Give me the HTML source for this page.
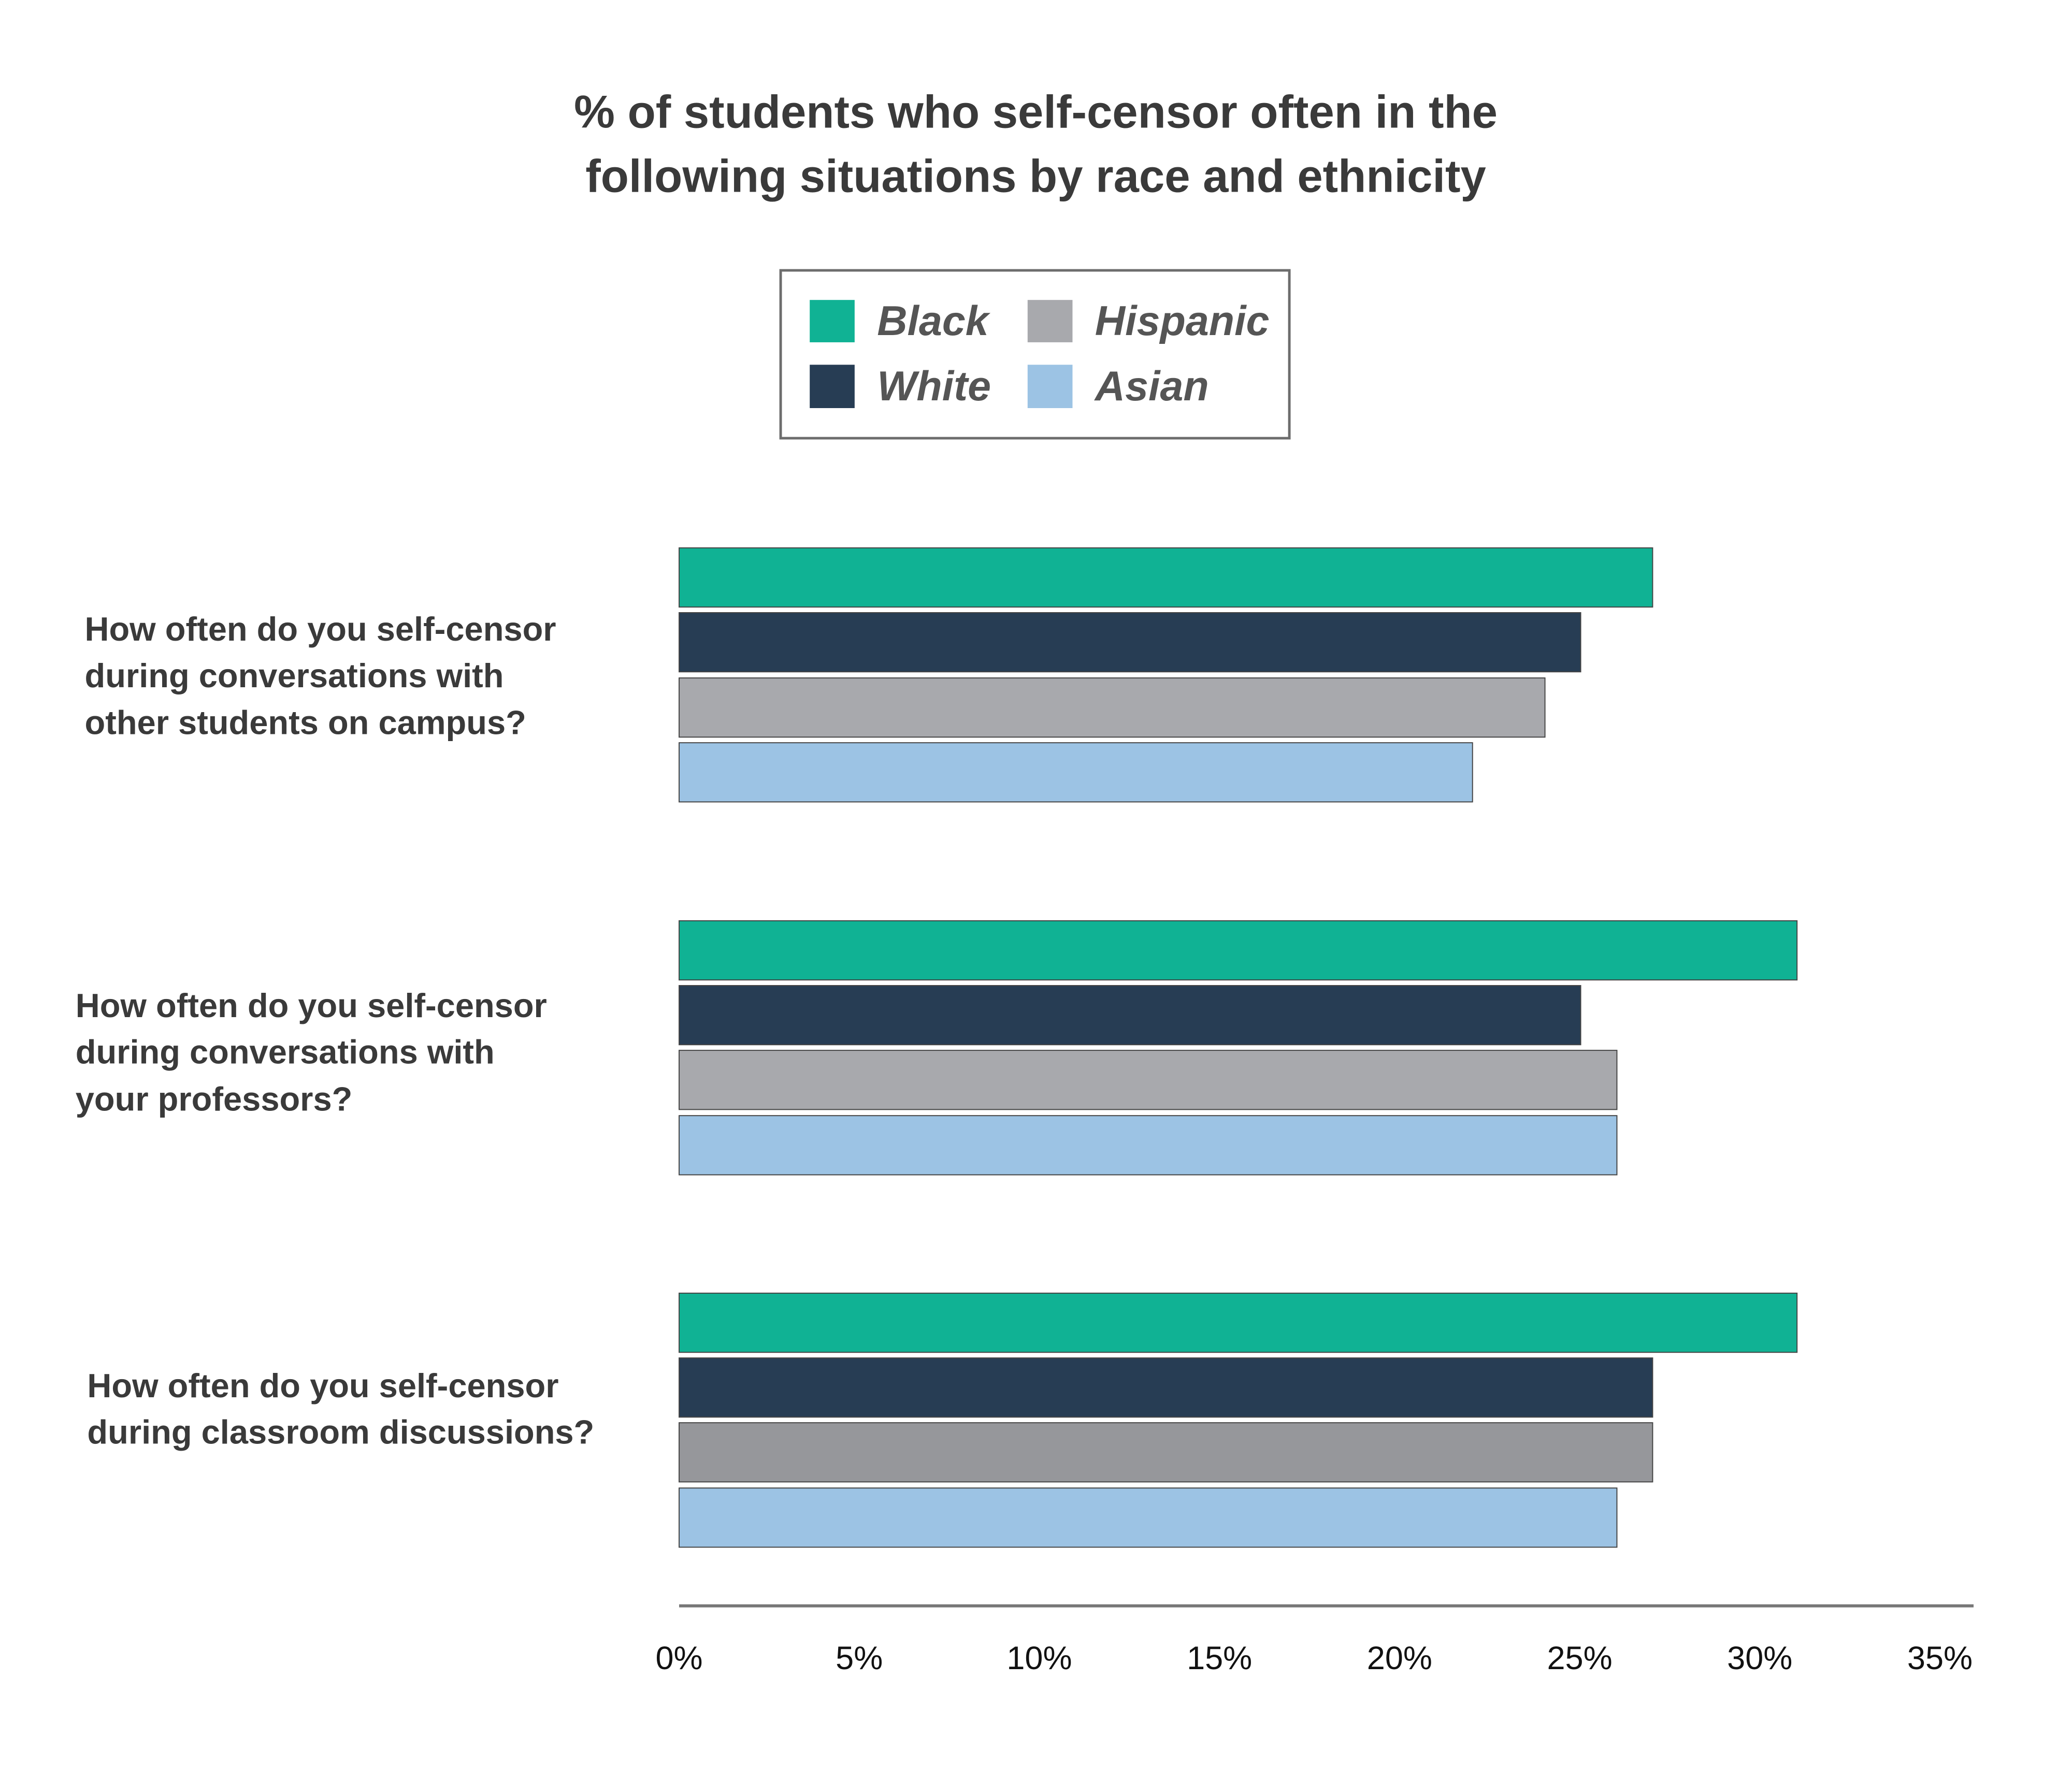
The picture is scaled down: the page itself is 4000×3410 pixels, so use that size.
<!DOCTYPE html>
<html><head><meta charset="utf-8"><style>html,body{margin:0;padding:0;background:#fff}svg{display:block}</style></head>
<body>
<svg width="4000" height="3410" viewBox="0 0 4000 3410" xmlns="http://www.w3.org/2000/svg">
<rect width="4000" height="3410" fill="#fff"/>
<g transform="scale(0.985)">
<g font-family="Liberation Sans, sans-serif" fill="#3a3a3a" font-weight="bold" text-anchor="middle" font-size="90">
<text x="2030" y="250">% of students who self-censor often in the</text>
<text x="2030" y="376">following situations by race and ethnicity</text>
</g>
<rect x="1530" y="530" width="997" height="329" fill="#fff" stroke="#6d6d6d" stroke-width="5"/>
<rect x="1587" y="588" width="88" height="83" fill="#10b294"/>
<rect x="1587" y="715" width="88" height="85" fill="#273d54"/>
<rect x="2014" y="588" width="88" height="83" fill="#a8a9ad"/>
<rect x="2014" y="715" width="88" height="85" fill="#9cc3e4"/>
<g font-family="Liberation Sans, sans-serif" fill="#555" font-weight="bold" font-style="italic" font-size="82">
<text x="1719" y="657">Black</text>
<text x="1719" y="785">White</text>
<text x="2146" y="657">Hispanic</text>
<text x="2146" y="785">Asian</text>
</g>
<g stroke="#444" stroke-width="2">
<rect x="1331" y="1074" width="1908" height="116" fill="#10b294"/>
<rect x="1331" y="1201" width="1767" height="116" fill="#273d54"/>
<rect x="1331" y="1329" width="1697" height="116" fill="#a8a9ad"/>
<rect x="1331" y="1456" width="1555" height="116" fill="#9cc3e4"/>
<rect x="1331" y="1805" width="2191" height="116" fill="#10b294"/>
<rect x="1331" y="1932" width="1767" height="116" fill="#273d54"/>
<rect x="1331" y="2059" width="1838" height="116" fill="#a8a9ad"/>
<rect x="1331" y="2187" width="1838" height="116" fill="#9cc3e4"/>
<rect x="1331" y="2535" width="2191" height="116" fill="#10b294"/>
<rect x="1331" y="2662" width="1908" height="116" fill="#273d54"/>
<rect x="1331" y="2789" width="1908" height="116" fill="#96979b"/>
<rect x="1331" y="2917" width="1838" height="116" fill="#9cc3e4"/>
</g>
<rect x="1331" y="3145" width="2537" height="6" fill="#777"/>
<g font-family="Liberation Sans, sans-serif" fill="#111" font-size="64" text-anchor="middle">
<text x="1331" y="3272">0%</text>
<text x="1684" y="3272">5%</text>
<text x="2037" y="3272">10%</text>
<text x="2390" y="3272">15%</text>
<text x="2743" y="3272">20%</text>
<text x="3096" y="3272">25%</text>
<text x="3449" y="3272">30%</text>
<text x="3802" y="3272">35%</text>
</g>
<g font-family="Liberation Sans, sans-serif" fill="#3a3a3a" font-weight="bold" font-size="66">
<text x="166" y="1256">How often do you self-censor</text>
<text x="166" y="1347">during conversations with</text>
<text x="166" y="1439">other students on campus?</text>
<text x="148" y="1994">How often do you self-censor</text>
<text x="148" y="2085">during conversations with</text>
<text x="148" y="2177">your professors?</text>
<text x="171" y="2739">How often do you self-censor</text>
<text x="171" y="2830">during classroom discussions?</text>
</g>
</g>
</svg>
</body></html>
